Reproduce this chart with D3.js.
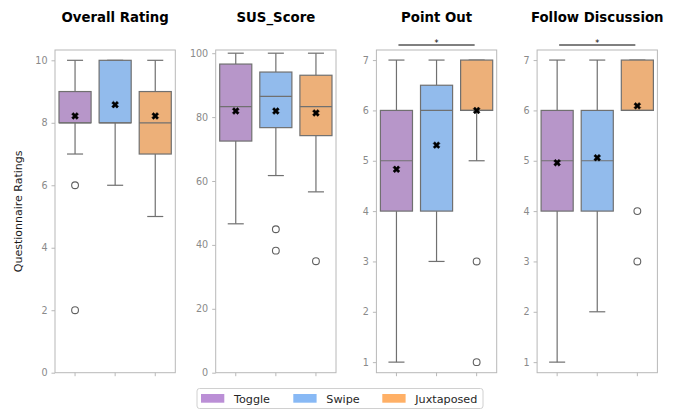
<!DOCTYPE html>
<html>
<head>
<meta charset="utf-8">
<script src="https://cdn.jsdelivr.net/npm/d3@7"></script>
<style>
  html, body { margin: 0; padding: 0; background: #fff; }
  svg { display: block; font-family: "DejaVu Sans", sans-serif; }
</style>
</head>
<body>
<svg id="chart" width="680" height="411"></svg>
<script>
// Groups and questionnaire items
const groups = ["Toggle", "Swipe", "Juxtaposed"];
const metrics = ["Overall Rating", "SUS_Score", "Point Out", "Follow Discussion"];

// Box statistics per metric (one entry per group)
const whiskerLow  = [[7, 6, 5], [46.6, 61.7, 56.6], [1, 3, 5], [1, 2, 6]];
const q1          = [[8, 8, 7], [72.5, 76.7, 74.2], [4, 4, 6], [4, 4, 6]];
const median      = [[8, 8, 8], [83.3, 86.5, 83.3], [5, 6, 6], [5, 5, 6]];
const q3          = [[9, 10, 9], [96.6, 94.1, 93.1], [6, 6.5, 7], [6, 6, 7]];
const whiskerHigh = [[10, 10, 10], [100, 100, 100], [7, 7, 7], [7, 7, 7]];
const means       = [[8.22, 8.58, 8.22], [81.9, 81.9, 81.3], [4.83, 5.31, 6.0], [4.96, 5.06, 6.09]];
const outliers    = [[[6, 2], [], []], [[], [44.9, 38.2], [34.9]], [[], [], [3, 1]], [[], [], [4, 3]]];

// Axis ticks and limits
const yTicks = [[0, 2, 4, 6, 8, 10], [0, 20, 40, 60, 80, 100], [1, 2, 3, 4, 5, 6, 7], [1, 2, 3, 4, 5, 6, 7]];
const yLimits = [[0, 10.33], [0, 101], [0.79, 7.2], [0.79, 7.2]];

// Significance brackets (group index pairs) and their labels
const sigPairs = [null, null, [0, 2], [0, 2]];
const sigLabels = ["", "", "*", "*"];

// Colours
const legendColors = ["#bb8fd6", "#88b9f5", "#ffb066"];
const boxColors = ["#b796c9", "#92bbec", "#edb079"];
const lineColor = "#707070";
const spineColor = "#b8b8b8";
const tickTextColor = "#8a8a8a";

const svg = d3.select("#chart");

const panelW = 120.3, panelGap = 40.4;
const firstLeft = 55, plotTop = 50, plotBottom = 372.7;

metrics.forEach((name, m) => {
  const left = firstLeft + m * (panelW + panelGap);
  const x = d3.scaleBand().domain(groups).range([left, left + panelW]).paddingInner(0.2).paddingOuter(0.1);
  const xc = g => x(g) + x.bandwidth() / 2;
  const y = d3.scaleLinear().domain(yLimits[m]).range([plotBottom, plotTop]);

  const g = svg.append("g");

  // frame
  g.append("rect")
    .attr("x", left).attr("y", plotTop)
    .attr("width", panelW).attr("height", plotBottom - plotTop)
    .attr("fill", "none").attr("stroke", spineColor).attr("stroke-width", 1);

  // y axis
  const yAxis = g.append("g")
    .attr("transform", `translate(${left},0)`)
    .call(d3.axisLeft(y).tickValues(yTicks[m]).tickSize(3.5).tickPadding(4).tickFormat(d3.format("d")));
  yAxis.select(".domain").remove();
  yAxis.selectAll("line").attr("stroke", spineColor);
  yAxis.selectAll("text").attr("fill", tickTextColor).style("font-size", "9.6px")
    .style("font-family", "DejaVu Sans, sans-serif");

  // x axis ticks (no labels)
  const xAxis = g.append("g")
    .attr("transform", `translate(0,${plotBottom})`)
    .call(d3.axisBottom(x).tickSize(3.5).tickFormat(""));
  xAxis.select(".domain").remove();
  xAxis.selectAll("line").attr("stroke", spineColor);

  // boxes
  groups.forEach((grp, i) => {
    const cx = xc(grp);
    const bw = x.bandwidth();
    const capW = bw / 2;

    // whiskers
    g.append("line").attr("x1", cx).attr("x2", cx)
      .attr("y1", y(q3[m][i])).attr("y2", y(whiskerHigh[m][i]))
      .attr("stroke", lineColor).attr("stroke-width", 1.2);
    g.append("line").attr("x1", cx).attr("x2", cx)
      .attr("y1", y(q1[m][i])).attr("y2", y(whiskerLow[m][i]))
      .attr("stroke", lineColor).attr("stroke-width", 1.2);
    [whiskerHigh[m][i], whiskerLow[m][i]].forEach(v => {
      g.append("line").attr("x1", cx - capW / 2).attr("x2", cx + capW / 2)
        .attr("y1", y(v)).attr("y2", y(v))
        .attr("stroke", lineColor).attr("stroke-width", 1.2);
    });

    // box
    g.append("rect")
      .attr("x", x(grp)).attr("width", bw)
      .attr("y", y(q3[m][i])).attr("height", y(q1[m][i]) - y(q3[m][i]))
      .attr("fill", boxColors[i]).attr("stroke", lineColor).attr("stroke-width", 1.2);

    // median
    g.append("line").attr("x1", x(grp)).attr("x2", x(grp) + bw)
      .attr("y1", y(median[m][i])).attr("y2", y(median[m][i]))
      .attr("stroke", lineColor).attr("stroke-width", 1.2);

    // outliers
    outliers[m][i].forEach(v => {
      g.append("circle").attr("cx", cx).attr("cy", y(v)).attr("r", 3.4)
        .attr("fill", "none").attr("stroke", "#606060").attr("stroke-width", 1.1);
    });

    // mean marker
    g.append("path")
      .attr("d", d3.symbol(d3.symbolCross, 30)())
      .attr("transform", `translate(${cx},${y(means[m][i])}) rotate(45)`)
      .attr("fill", "#000").attr("stroke", "#000").attr("stroke-width", 0.4);
  });

  // significance bracket
  if (sigPairs[m]) {
    const [a, b] = sigPairs[m];
    const yb = plotTop - 5;
    g.append("line")
      .attr("x1", xc(groups[a]) + 2).attr("x2", xc(groups[b]) - 2)
      .attr("y1", yb).attr("y2", yb)
      .attr("stroke", "#000").attr("stroke-width", 1);
    g.append("text")
      .attr("x", (xc(groups[a]) + xc(groups[b])) / 2).attr("y", yb + 1)
      .attr("text-anchor", "middle").style("font-size", "8px").attr("fill", "#000")
      .text(sigLabels[m]);
  }

  // title
  g.append("text")
    .attr("x", left + panelW / 2).attr("y", 22)
    .attr("text-anchor", "middle")
    .style("font-size", "13.3px").style("font-weight", "bold").attr("fill", "#000")
    .text(name);
});

// y label
svg.append("text")
  .attr("transform", `translate(22,${(plotTop + plotBottom) / 2}) rotate(-90)`)
  .attr("text-anchor", "middle")
  .style("font-size", "11px").attr("fill", "#1a1a1a")
  .text("Questionnaire Ratings");

// legend
const legend = svg.append("g");
legend.append("rect")
  .attr("x", 197).attr("y", 388.5).attr("width", 286).attr("height", 20)
  .attr("rx", 2.5).attr("fill", "#fff").attr("stroke", "#d0d0d0").attr("stroke-width", 1);
const legendX = [201, 293.3, 382.3];
groups.forEach((grp, i) => {
  legend.append("rect")
    .attr("x", legendX[i]).attr("y", 394).attr("width", 23.3).attr("height", 8.7)
    .attr("fill", legendColors[i]);
  legend.append("text")
    .attr("x", legendX[i] + 33).attr("y", 402.7)
    .style("font-size", "11.2px").attr("fill", "#262626")
    .text(grp);
});
</script>
</body>
</html>
